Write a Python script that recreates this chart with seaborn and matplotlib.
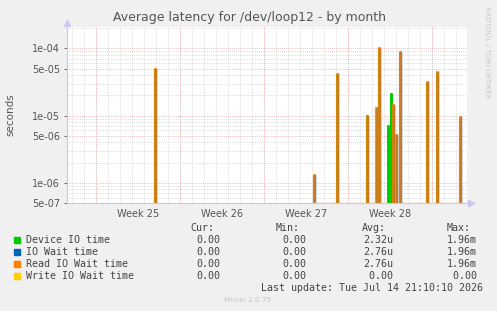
import numpy as np
import pandas as pd
import matplotlib
matplotlib.use('Agg')
import matplotlib.pyplot as plt
import seaborn as sns

title = 'Average latency for /dev/loop12 - by month'
week_labels = ['Week 25', 'Week 26', 'Week 27', 'Week 28']
ytick_vals = [5e-7, 1e-6, 5e-6, 1e-5, 5e-5, 1e-4]
ytick_labels = ['5e-07', '1e-06', '5e-06', '1e-05', '5e-05', '1e-04']

# one sample = 2 hours, counted from the left edge of the graph
spike_idx = [88, 247, 270, 300, 309, 312, 321, 324, 326, 329, 333, 360, 370, 393]
device_vals = [4.8e-5, 1.2e-6, 4.0e-5, 1.0e-5, 0, 9.5e-5, 7.0e-6, 2.1e-5, 0, 0, 8.5e-5, 3.1e-5, 4.3e-5, 9.0e-6]
read_vals = [4.9e-5, 1.3e-6, 4.1e-5, 9.5e-6, 1.3e-5, 1.0e-4, 0, 0, 1.45e-5, 5.1e-6, 8.8e-5, 3.2e-5, 4.5e-5, 9.6e-6]
iowait_vals = read_vals
write_vals = [0] * len(spike_idx)

legend_names = ['Device IO time', 'IO Wait time', 'Read IO Wait time', 'Write IO Wait time']
legend_colors = ['#00CC00', '#0066B3', '#FF8000', '#FFCC00']
cur_vals = ['0.00', '0.00', '0.00', '0.00']
min_vals = ['0.00', '0.00', '0.00', '0.00']
avg_vals = ['2.32u', '2.76u', '2.76u', ' 0.00']
max_vals = ['1.96m', '1.96m', '1.96m', ' 0.00']
last_update = 'Last update: Tue Jul 14 21:10:10 2026'

n_samples = 400
floor = 4.9e-7


def build(vals):
    y = np.full(n_samples, np.nan)
    y[87:90] = 0
    y[246:] = 0
    y[spike_idx] = vals
    seg = np.where(np.arange(n_samples) < 200, 0, 1)
    df = pd.DataFrame({'x': (np.arange(n_samples) + 0.5) / 12, 'y': y, 'seg': seg})
    df = df.dropna()
    df['y'] = df['y'].where(df['y'] > 0, floor)
    return df


W, H = 497, 311
fig = plt.figure(figsize=(W / 100, H / 100), dpi=100, facecolor='#F0F0F0')
ax = fig.add_axes([67 / W, (H - 203) / H, 400 / W, 176 / H])
ax.set_facecolor('white')

series = [device_vals, iowait_vals, read_vals, write_vals]
widths = [1.4, 1.0, 1.6, 1.0]
alphas = [1.0, 1.0, 0.8, 0.7]
for vals, col, lw, a in zip(series, legend_colors, widths, alphas):
    sns.lineplot(data=build(vals), x='x', y='y', units='seg', estimator=None,
                 color=col, linewidth=lw, alpha=a, drawstyle='steps-mid', ax=ax, legend=False)

ax.set_yscale('log')
ax.set_ylim(5e-7, 2.08e-4)
ax.set_xlim(0, n_samples / 12)

# grid
week_start = 2.4
minor_x = [week_start - 2 + k for k in range(34) if week_start - 2 + k < n_samples / 12]
major_x = [week_start + 7 * k for k in range(5)]
minor_y = [m * 10.0 ** e for e in (-7, -6, -5, -4) for m in (2, 3, 4, 6, 7, 8, 9)]
minor_y = [v for v in minor_y if 5e-7 < v < 2.08e-4]
for v in minor_x:
    ax.axvline(v, color='#d0d0d0', lw=0.6, ls=(0, (1, 1.5)), zorder=0)
for v in minor_y:
    ax.axhline(v, color='#d0d0d0', lw=0.6, ls=(0, (1, 1.5)), zorder=0)
for v in major_x:
    ax.axvline(v, color='#e8a8a8', lw=0.6, ls=(0, (1, 1.5)), zorder=0)
for v in ytick_vals:
    ax.axhline(v, color='#e8a8a8', lw=0.6, ls=(0, (1, 1.5)), zorder=0)

ax.set_yticks(ytick_vals)
ax.set_yticklabels(ytick_labels)
ax.yaxis.set_minor_locator(matplotlib.ticker.NullLocator())
ax.set_xticks([week_start + 3.5 + 7 * k for k in range(4)])
ax.set_xticklabels(week_labels)
ax.tick_params(axis='both', labelsize=7, colors='#555555', length=2, width=0.6, pad=3)
ax.tick_params(axis='x', length=0, pad=4)
ax.set_xlabel('')
ax.set_ylabel('seconds', fontsize=7.5, color='#555555', labelpad=12)

for s in ('top', 'right'):
    ax.spines[s].set_visible(False)
for s in ('left', 'bottom'):
    ax.spines[s].set_color('#c8c8f0')
    ax.spines[s].set_linewidth(0.8)
ax.plot([0], [1.025], marker='^', ms=4, color='#c8c8f0', transform=ax.transAxes, clip_on=False)
ax.plot([1.01], [0], marker='>', ms=4, color='#c8c8f0', transform=ax.transAxes, clip_on=False)

fig.text(250 / W, 1 - 18 / H, title, ha='center', va='center', fontsize=9, color='#555555')
fig.text(487 / W, 1 - 52 / H, 'RRDTOOL / TOBI OETIKER', rotation=270, ha='center', va='center',
         fontsize=5.2, color='#c8c8c8')

mono = 'DejaVu Sans Mono'
tc = '#444444'
for x, h in zip([190, 276, 362, 447], ['Cur:', 'Min:', 'Avg:', 'Max:']):
    fig.text(x / W, 1 - 228 / H, h, fontsize=7.2, family=mono, color=tc, va='center')
for i, name in enumerate(legend_names):
    y = 1 - (240 + 12 * i) / H
    fig.patches.append(plt.Rectangle((14 / W, y - 3 / H), 6 / W, 6 / H, transform=fig.transFigure,
                                     color=legend_colors[i]))
    fig.text(26 / W, y, name, fontsize=7.2, family=mono, color=tc, va='center')
    fig.text(196 / W, y, cur_vals[i], fontsize=7.2, family=mono, color=tc, va='center')
    fig.text(282 / W, y, min_vals[i], fontsize=7.2, family=mono, color=tc, va='center')
    fig.text(363 / W, y, avg_vals[i], fontsize=7.2, family=mono, color=tc, va='center')
    fig.text(447 / W, y, max_vals[i], fontsize=7.2, family=mono, color=tc, va='center')
fig.text(483 / W, 1 - 288 / H, last_update, fontsize=7.2, family=mono, color=tc, va='center', ha='right')
fig.text(248 / W, 1 - 300 / H, 'Munin 2.0.75', fontsize=5.2, color='#c8c8c8', va='center', ha='center')

fig.savefig('out.png', dpi=100, facecolor=fig.get_facecolor())
